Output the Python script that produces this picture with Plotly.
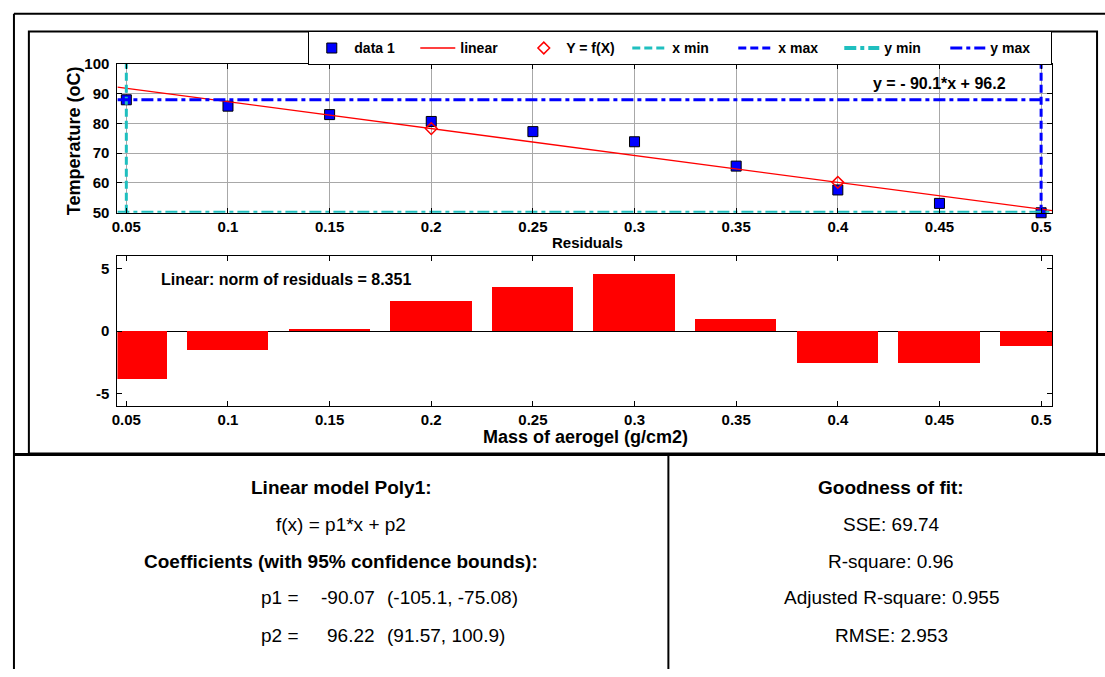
import plotly.graph_objects as go

W, H = 1105, 677
FONT = "Liberation Sans, Arial, sans-serif"

# ---------------- data ----------------
mass = [0.05, 0.10, 0.15, 0.20, 0.25, 0.30, 0.35, 0.40, 0.45, 0.50]
temperature = [87.87, 85.73, 82.90, 80.60, 77.20, 73.80, 65.64, 57.64, 53.14, 50.00]
residuals = [-3.85, -1.48, 0.20, 2.40, 3.50, 4.60, 0.94, -2.55, -2.55, -1.20]
x_tick_labels = ["0.05", "0.1", "0.15", "0.2", "0.25", "0.3", "0.35", "0.4", "0.45", "0.5"]
temp_ticks = [50, 60, 70, 80, 90, 100]
res_ticks = [-5, 0, 5]
res_tick_labels = ["-5", "0", "5"]
p1, p2 = -90.07, 96.22
eval_x = [0.20, 0.40]          # Y = f(X) points
eval_y = [78.21, 60.19]

x_range = [0.0456, 0.5055]
temp_range = [50, 100]
res_range = [-6, 6]

x_min, x_max = min(mass), max(mass)
y_min, y_max = min(temperature), max(temperature)

CYAN = "#1fbfbf"
BLUE = "#0000ff"
RED = "#ff0000"


def px(x):
    return x / W


def py(y):
    return 1 - y / H


fig = go.Figure()

# ---------------- top plot ----------------
fig.add_trace(go.Scatter(
    x=mass, y=temperature, mode="markers", name="data 1",
    marker=dict(symbol="square", size=10, color=BLUE, line=dict(color="black", width=1)),
    xaxis="x", yaxis="y", cliponaxis=False))
fig.add_trace(go.Scatter(
    x=x_range, y=[p1 * v + p2 for v in x_range], mode="lines", name="linear",
    line=dict(color=RED, width=1.3), xaxis="x", yaxis="y"))
fig.add_trace(go.Scatter(
    x=eval_x, y=eval_y, mode="markers", name="Y = f(X)",
    marker=dict(symbol="diamond-open", size=9, color=RED, line=dict(color=RED, width=1.5)),
    xaxis="x", yaxis="y"))
fig.add_trace(go.Scatter(
    x=[x_min, x_min], y=temp_range, mode="lines", name="x min",
    line=dict(color=CYAN, width=3, dash="8px,4px"), xaxis="x", yaxis="y"))
fig.add_trace(go.Scatter(
    x=[x_max, x_max], y=temp_range, mode="lines", name="x max",
    line=dict(color=BLUE, width=3, dash="8px,4px"), xaxis="x", yaxis="y"))
fig.add_trace(go.Scatter(
    x=x_range, y=[y_min, y_min], mode="lines", name="y min",
    line=dict(color=CYAN, width=4, dash="12px,4px,4px,4px"), xaxis="x", yaxis="y"))
fig.add_trace(go.Scatter(
    x=x_range, y=[y_max, y_max], mode="lines", name="y max",
    line=dict(color=BLUE, width=3, dash="12px,4px,4px,4px"), xaxis="x", yaxis="y"))

# ---------------- residual plot ----------------
fig.add_trace(go.Bar(
    x=mass, y=residuals, width=0.04, marker=dict(color=RED, line=dict(width=0)),
    showlegend=False, xaxis="x2", yaxis="y2"))

tickfont = dict(family=FONT, size=15, color="black", weight="bold")
axis_common = dict(showline=True, linecolor="black", linewidth=1, mirror="ticks",
                   ticks="inside", ticklen=5, tickcolor="black", tickfont=tickfont)

xdom = [px(112), px(1052)]
fig.update_layout(
    width=W, height=H,
    margin=dict(l=0, r=0, t=0, b=0),
    paper_bgcolor="white", plot_bgcolor="white",
    font=dict(family=FONT, color="black"),
    xaxis=dict(domain=xdom, range=x_range, tickvals=mass, ticktext=x_tick_labels,
               showgrid=True, gridcolor="#a8a8a8", gridwidth=1, anchor="y",
               zeroline=False, **axis_common),
    yaxis=dict(domain=[py(209), py(56)], range=temp_range, tickvals=temp_ticks,
               showgrid=True, gridcolor="#a8a8a8", gridwidth=1, anchor="x",
               zeroline=False, ticklabelstandoff=4, **axis_common),
    xaxis2=dict(domain=xdom, range=x_range, tickvals=mass, ticktext=x_tick_labels,
                showgrid=False, anchor="y2", zeroline=False, **axis_common),
    yaxis2=dict(domain=[py(407.3), py(253.3)], range=res_range, tickvals=res_ticks,
                ticktext=res_tick_labels, showgrid=False, anchor="x2",
                zeroline=True, zerolinecolor="black", zerolinewidth=1,
                ticklabelstandoff=4, **axis_common),
    showlegend=True,
    legend=dict(orientation="h", x=px(1052), xanchor="right", y=py(23), yanchor="top",
                bordercolor="black", borderwidth=1, bgcolor="white",
                font=dict(family=FONT, size=14, color="black", weight="bold"),
                entrywidth=56, entrywidthmode="pixels", itemwidth=35),
    bargap=0,
)

# ---------------- text ----------------
ann = []


def text(x, y, s, size, bold=False, xanchor="center", angle=0):
    ann.append(dict(x=px(x), y=py(y), xref="paper", yref="paper", text=s, showarrow=False,
                    xanchor=xanchor, yanchor="middle", textangle=angle, borderpad=0,
                    font=dict(family=FONT, size=size, color="black",
                              weight="bold" if bold else "normal")))


text(939, 76, "y = - 90.1*x + 96.2", 16, True)
text(155, 277, "Linear: norm of residuals = 8.351", 16, True, xanchor="left")
text(585, 240, "Residuals", 15, True)
text(583, 439, "Mass of aerogel (g/cm2)", 18, True)
text(68, 135, "Temperature (oC)", 18, True, angle=-90)

# table
TS = 19
text(337, 491, "Linear model Poly1:", TS, True)
text(337, 529, "f(x) = p1*x + p2", TS)
text(337, 567, "Coefficients (with 95% confidence bounds):", TS, True)
text(255, 604, "p1 =", TS, xanchor="left")
text(372, 604, "-90.07", TS, xanchor="right")
text(382, 604, "(-105.1, -75.08)", TS, xanchor="left")
text(255, 643, "p2 =", TS, xanchor="left")
text(372, 643, "96.22", TS, xanchor="right")
text(382, 643, "(91.57, 100.9)", TS, xanchor="left")
text(890, 491, "Goodness of fit:", TS, True)
text(890, 529, "SSE: 69.74", TS)
text(890, 567, "R-square: 0.96", TS)
text(890, 604, "Adjusted R-square: 0.955", TS)
text(890, 643, "RMSE: 2.953", TS)
fig.update_layout(annotations=ann)

# ---------------- frames ----------------
shapes = []


def line(x0, y0, x1, y1, w):
    shapes.append(dict(type="line", xref="paper", yref="paper", x0=px(x0), y0=py(y0),
                       x1=px(x1), y1=py(y1), line=dict(color="black", width=w)))


line(8, 5, 1105, 5, 2)
line(8, 5, 8, 677, 2)
shapes.append(dict(type="rect", xref="paper", yref="paper", x0=px(23), y0=py(456),
                   x1=px(1097), y1=py(23), line=dict(color="black", width=2)))
line(8, 457, 1105, 457, 3)
line(666, 457, 666, 677, 2)
fig.update_layout(shapes=shapes)

fig.write_html("out.html")
